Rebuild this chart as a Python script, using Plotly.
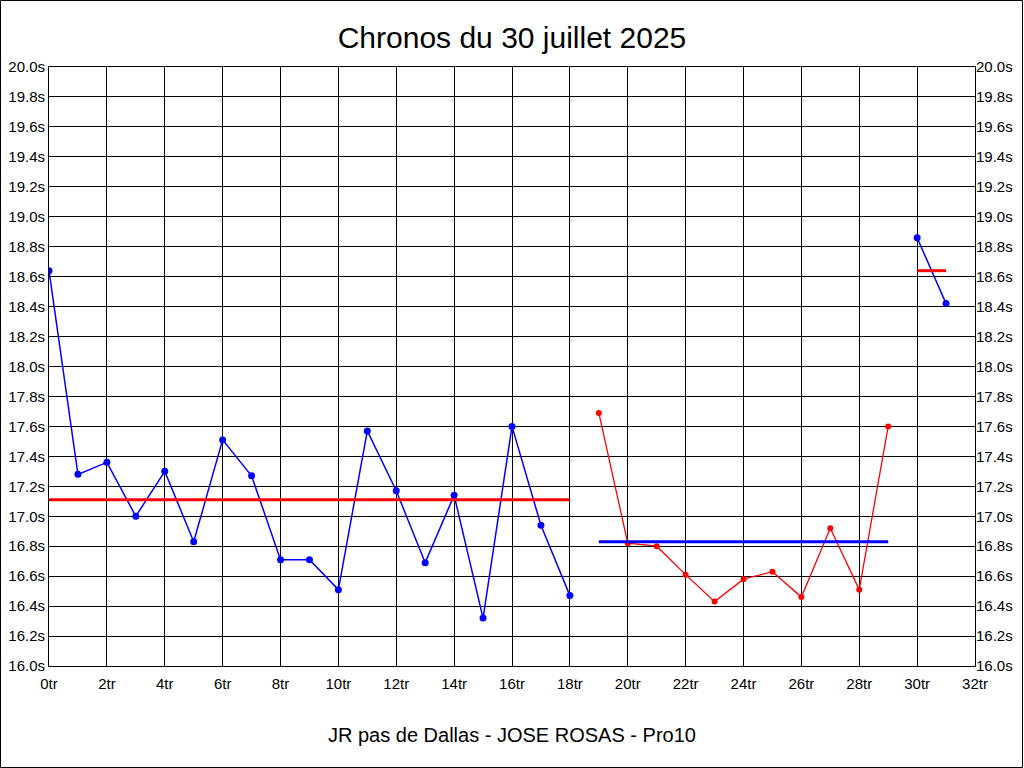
import plotly.graph_objects as go

# Series 1 (blue): laps 0-18
laps1 = list(range(0, 19))
times1 = [18.64, 17.28, 17.36, 17.00, 17.30, 16.83, 17.51, 17.27, 16.71, 16.71,
          16.51, 17.57, 17.17, 16.69, 17.14, 16.32, 17.60, 16.94, 16.47]
avg1_x = [0, 18]
avg1_y = [17.11, 17.11]

# Series 2 (red): laps 19-29
laps2 = list(range(19, 30))
times2 = [17.69, 16.82, 16.80, 16.61, 16.43, 16.58, 16.63, 16.46, 16.92, 16.51, 17.60]
avg2_x = [19, 29]
avg2_y = [16.83, 16.83]

# Series 3 (blue): laps 30-31
laps3 = [30, 31]
times3 = [18.86, 18.42]
avg3_x = [30, 31]
avg3_y = [18.64, 18.64]

title_text = "Chronos du 30 juillet 2025"
footer_text = "JR pas de Dallas - JOSE ROSAS - Pro10"

BLUE = "#0000FF"
RED = "#FF0000"
FONT = "Liberation Sans, Arial, sans-serif"

fig = go.Figure()
fig.add_trace(go.Scatter(x=laps1, y=times1, mode="lines+markers",
                         line=dict(color=BLUE, width=1.5),
                         marker=dict(color=BLUE, size=7), showlegend=False))
fig.add_trace(go.Scatter(x=avg1_x, y=avg1_y, mode="lines",
                         line=dict(color=RED, width=3), showlegend=False))
fig.add_trace(go.Scatter(x=laps2, y=times2, mode="lines+markers",
                         line=dict(color=RED, width=1.3),
                         marker=dict(color=RED, size=6), showlegend=False))
fig.add_trace(go.Scatter(x=avg2_x, y=avg2_y, mode="lines",
                         line=dict(color=BLUE, width=3), showlegend=False))
fig.add_trace(go.Scatter(x=laps3, y=times3, mode="lines+markers",
                         line=dict(color=BLUE, width=1.5),
                         marker=dict(color=BLUE, size=7), showlegend=False))
fig.add_trace(go.Scatter(x=avg3_x, y=avg3_y, mode="lines",
                         line=dict(color=RED, width=3), showlegend=False))
# dummy trace to activate the mirrored right axis
fig.add_trace(go.Scatter(x=[0], y=[None], yaxis="y2", mode="lines",
                         showlegend=False, hoverinfo="skip"))

axis_common = dict(showgrid=True, gridcolor="black", gridwidth=1,
                   showline=True, linecolor="black", linewidth=1,
                   zeroline=False, ticks="",
                   tickfont=dict(family=FONT, size=15, color="black"))

fig.update_layout(
    width=1024, height=768,
    paper_bgcolor="white", plot_bgcolor="white",
    margin=dict(l=49, r=49, t=67, b=102, autoexpand=False),
    title=dict(text=title_text, x=0.5, xanchor="center", y=1 - 37 / 768,
               yanchor="middle", font=dict(family=FONT, size=30, color="black")),
    xaxis=dict(range=[0, 32], dtick=2, tick0=0, ticksuffix="tr",
               mirror=True, ticklabelstandoff=4, **axis_common),
    yaxis=dict(range=[16.0, 20.0], dtick=0.2, tick0=16.0, tickformat=".1f",
               ticksuffix="s", mirror=True, **axis_common),
    yaxis2=dict(range=[16.0, 20.0], dtick=0.2, tick0=16.0, tickformat=".1f",
                ticksuffix="s", overlaying="y", side="right",
                showgrid=False, showline=False, zeroline=False, ticks="",
                tickfont=dict(family=FONT, size=15, color="black")),
    annotations=[dict(text=footer_text, xref="paper", yref="paper",
                      x=0.5, y=-(735 - 666) / 599, xanchor="center",
                      yanchor="middle", showarrow=False,
                      font=dict(family=FONT, size=20, color="black"))],
    shapes=[dict(type="rect", xref="paper", yref="paper",
                 x0=-48.5 / 926, x1=1 + 47.5 / 926,
                 y0=-(101.5) / 599, y1=1 + 66.5 / 599,
                 line=dict(color="black", width=1))],
)

fig.write_html("out.html",
               config={"displayModeBar": False},
               post_script="document.body.style.margin='0';document.body.style.overflow='hidden';")
